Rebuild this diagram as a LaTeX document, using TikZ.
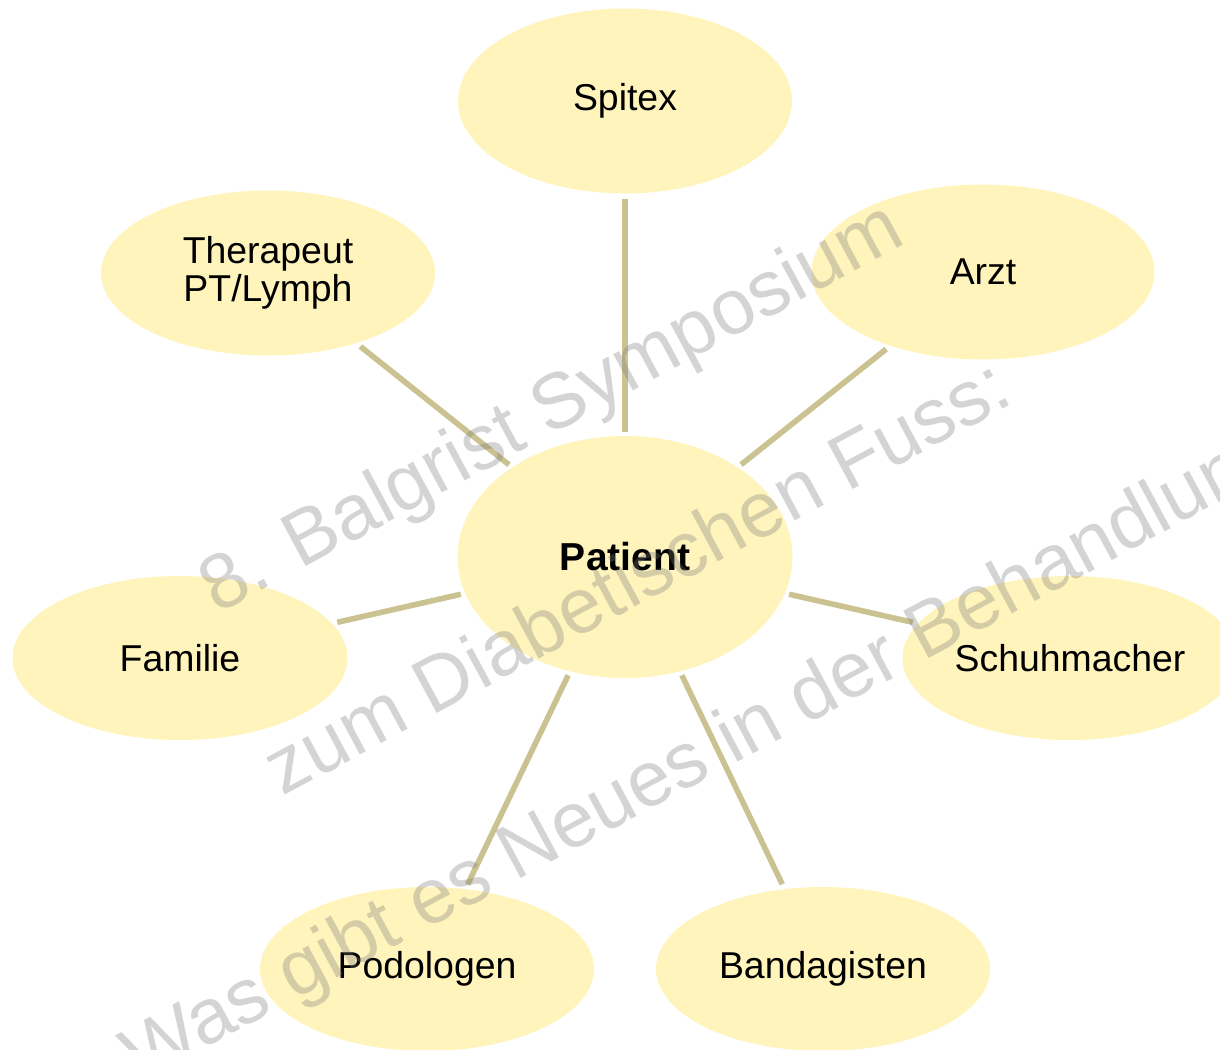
\documentclass[tikz,border=0pt]{standalone}
\usepackage{fontspec}
\setmainfont{Liberation Sans}
\usetikzlibrary{shapes.geometric}
\definecolor{bubblefill}{HTML}{FFF4BC}
\definecolor{spokecol}{HTML}{CBC291}
\tikzset{
  bubble/.style={ellipse, fill=bubblefill, inner sep=0pt, align=center,
    font=\fontsize{18.7}{19}\selectfont},
  spoke/.style={draw=spokecol, line width=2.8pt, shorten <=2pt, shorten >=2.5pt},
  watermark/.style={rotate=28.3, text=black!52, text opacity=0.32,
    font=\fontsize{39}{39}\selectfont},
}
\begin{document}
\begin{tikzpicture}[x=0.5pt, y=-0.5pt]

    % Page frame
    \useasboundingbox (0,0) rectangle (1220,1049);

    % Centre bubble
    \node[bubble, minimum width=167.5pt, minimum height=121pt] (patient) at (625,557) {\fontsize{19.5}{20}\selectfont\bfseries Patient};

    % Outer bubbles
    \node[bubble, minimum width=167pt, minimum height=92.5pt] (spitex) at (625,101) {Spitex};
    \node[bubble, minimum width=167pt, minimum height=82.5pt] (therapeut) at (268,273) {Therapeut\\PT/Lymph};
    \node[bubble, minimum width=171.5pt, minimum height=87.5pt] (arzt) at (983,272) {Arzt};
    \node[bubble, minimum width=167.5pt, minimum height=82pt] (familie) at (180,658) {Familie};
    \node[bubble, minimum width=167.5pt, minimum height=82pt] (schuhmacher) at (1070,658) {Schuhmacher};
    \node[bubble, minimum width=167pt, minimum height=82pt] (podologen) at (427,969) {Podologen};
    \node[bubble, minimum width=167pt, minimum height=82pt] (bandagisten) at (823,969) {Bandagisten};

    % Spokes from the patient
    \foreach \n in {spitex, therapeut, arzt, familie, schuhmacher, podologen, bandagisten}
        \draw[spoke] (patient) -- (\n);

    % Watermark on top
    \node[watermark] (wm1) at (553,411) {8. Balgrist Symposium};
    \node[watermark] (wm2) at (636,575) {zum Diabetischen Fuss:};
    \node[watermark] (wm3) at (706,756) {Was gibt es Neues in der Behandlung};

\end{tikzpicture}
\end{document}
